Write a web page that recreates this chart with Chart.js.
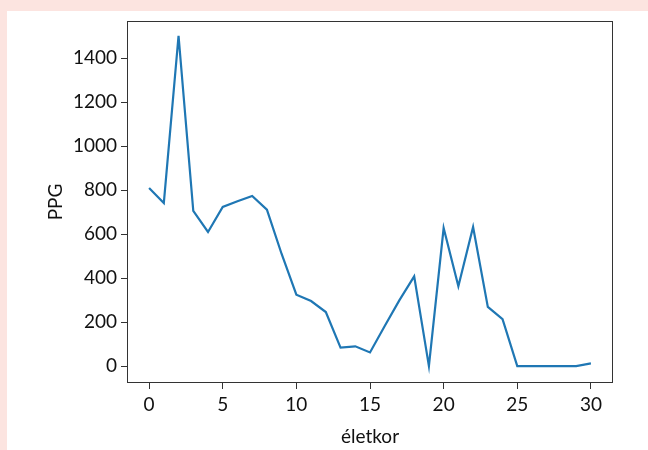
<!DOCTYPE html>
<html>
<head>
<meta charset="utf-8">
<script src="https://cdn.jsdelivr.net/npm/chart.js@4.4.0/dist/chart.umd.min.js"></script>
<style>
  html, body { margin: 0; padding: 0; background: #ffffff; }
  .pink-top { position: absolute; left: 0; top: 0; width: 648px; height: 11px; background: #fce4e0; }
  .pink-left { position: absolute; left: 0; top: 0; width: 7px; height: 450px; background: #fce4e0; }
  #wrap { position: absolute; left: 0; top: 0; width: 648px; height: 450px; }
</style>
</head>
<body>
<div class="pink-top"></div>
<div class="pink-left"></div>
<div id="wrap"><canvas id="myChart"></canvas></div>
<script>
  // életkor (age) and points per game
  const ages = [0, 1, 2, 3, 4, 5, 6, 7, 8, 9, 10, 11, 12, 13, 14, 15,
                16, 17, 18, 19, 20, 21, 22, 23, 24, 25, 26, 27, 28, 29, 30];
  const ppg = [810, 742, 1503, 706, 610, 724, 750, 774, 712, 510, 325, 296, 246, 84, 90, 62,
               182, 300, 408, 0, 628, 363, 633, 269, 213, 0, 0, 0, 0, 0, 12];
  const xTicks = [0, 5, 10, 15, 20, 25, 30];
  const yTicks = [0, 200, 400, 600, 800, 1000, 1200, 1400];

  const fontFamily = 'Lato, "Open Sans", sans-serif';

  const frame = {
    id: 'frame',
    afterDraw(chart) {
      const { ctx, chartArea } = chart;
      ctx.save();
      ctx.strokeStyle = '#333333';
      ctx.lineWidth = 1;
      ctx.strokeRect(chartArea.left + 0.5, chartArea.top + 0.5,
                     chartArea.right - chartArea.left - 1, chartArea.bottom - chartArea.top - 1);
      ctx.restore();
    }
  };

  const data = {
    datasets: [{
      label: 'PPG',
      data: ages.map((a, i) => ({ x: a, y: ppg[i] })),
      borderColor: '#1f77b4',
      borderWidth: 2.2,
      pointRadius: 0,
      tension: 0,
      fill: false
    }]
  };

  const config = {
    type: 'line',
    data: data,
    options: {
      responsive: true,
      maintainAspectRatio: false,
      animation: false,
      layout: { padding: { left: 0, top: 21, right: 35, bottom: 0 } },
      plugins: {
        legend: { display: false },
        tooltip: { enabled: false }
      },
      scales: {
        x: {
          type: 'linear',
          min: -1.5,
          max: 31.5,
          afterBuildTicks: (scale) => { scale.ticks = xTicks.map(v => ({ value: v })); },
          afterFit: (scale) => { scale.height = 67; },
          grid: { display: true, drawOnChartArea: false, drawTicks: true, tickLength: 6, color: '#333333' },
          border: { display: false },
          ticks: { color: '#111111', font: { family: fontFamily, size: 19 }, padding: 4, maxRotation: 0,
                   callback: (v) => String(v) },
          title: { display: true, text: 'életkor', color: '#111111', font: { family: fontFamily, size: 19 }, padding: { top: 0, bottom: 2 } }
        },
        y: {
          type: 'linear',
          min: -77,
          max: 1570,
          afterBuildTicks: (scale) => { scale.ticks = yTicks.map(v => ({ value: v })); },
          afterFit: (scale) => { scale.width = 127; },
          grid: { display: true, drawOnChartArea: false, drawTicks: true, tickLength: 6, color: '#333333' },
          border: { display: false },
          ticks: { color: '#111111', font: { family: fontFamily, size: 19 }, padding: 4,
                   callback: (v) => String(v) },
          title: { display: true, text: 'PPG', color: '#111111', font: { family: fontFamily, size: 19 }, padding: { top: 44, bottom: 0 } }
        }
      }
    },
    plugins: [frame]
  };

  new Chart(document.getElementById('myChart'), config);
</script>
</body>
</html>
